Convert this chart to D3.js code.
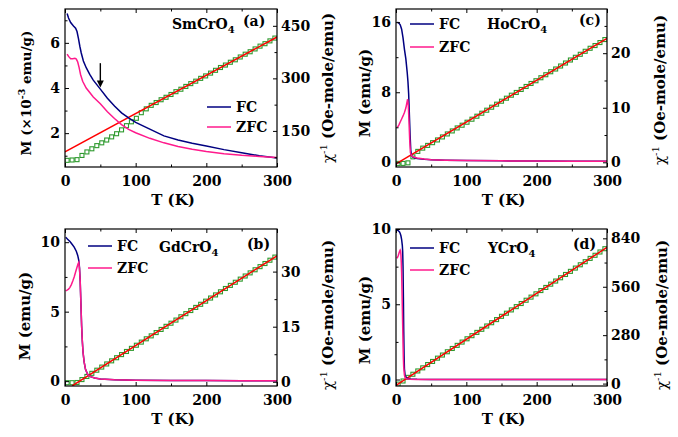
<!DOCTYPE html>
<html>
<head>
<meta charset="utf-8">
<script src="https://cdn.jsdelivr.net/npm/d3@7"></script>
<style>
body { margin: 0; background: #fff; }
svg text { font-family: "DejaVu Serif", serif; font-weight: bold; fill: #000; }
</style>
</head>
<body>
<div id="chart"></div>
<script>
// temperature grid of the 1/chi squares (shared by all panels)
const chiT = [3, 10, 17, 24, 31, 38, 45, 52, 59, 66, 73, 80, 87, 94, 101, 108, 115, 122, 129, 136, 143, 150,
    157, 164, 171, 178, 185, 192, 199, 206, 213, 220, 227, 234, 241, 248, 255, 262, 269, 276, 283, 290, 297];

// (a) SmCrO4
const smFcT = [3, 5, 8, 12, 15, 17, 19, 21, 23, 26, 30, 35, 40, 45, 50, 60, 70, 80, 90, 100, 120, 140, 160, 180, 200, 225, 250, 275, 300];
const smFcM = [7.3, 7.1, 6.9, 6.75, 6.65, 6.5, 6.2, 5.85, 5.55, 5.2, 4.9, 4.6, 4.35, 4.15, 3.95, 3.55, 3.2, 2.9, 2.68, 2.48, 2.18, 1.88, 1.7, 1.55, 1.43, 1.27, 1.13, 1.0, 0.9];
const smZfcT = [3, 5, 8, 11, 14, 16, 18, 20, 22, 25, 30, 35, 40, 50, 60, 70, 80, 90, 100, 120, 140, 160, 180, 200, 225, 250, 275, 300];
const smZfcM = [5.5, 5.4, 5.3, 5.3, 5.32, 5.28, 5.15, 4.9, 4.6, 4.3, 4.0, 3.8, 3.6, 3.3, 2.95, 2.65, 2.38, 2.17, 2.02, 1.77, 1.57, 1.41, 1.29, 1.19, 1.09, 1.02, 0.97, 0.92];
const smChi = [66, 67, 68, 80, 90, 99, 108, 116, 124, 133, 142, 153, 165, 176, 186, 202, 213, 223, 231, 239, 246, 254,
    262, 269, 277, 285, 292, 300, 307, 315, 323, 331, 338, 346, 353, 361, 369, 376, 384, 392, 399, 407, 415];
const smFitT = [0, 300];
const smFitChi = [90, 418];

// (c) HoCrO4
const hoFcT = [2, 4, 6, 8, 10, 12, 14, 16, 17, 18, 19, 20, 21, 22, 24, 27, 30, 40, 50, 70, 100, 150, 200, 250, 300];
const hoFcM = [16, 15.9, 15.7, 15.2, 14.2, 12.9, 11.8, 10.2, 9.2, 7.8, 5.5, 3.2, 1.4, 0.8, 0.6, 0.5, 0.45, 0.35, 0.3, 0.25, 0.2, 0.17, 0.15, 0.14, 0.13];
const hoZfcT = [2, 4, 6, 8, 10, 12, 14, 15.5, 16.5, 17.5, 18.5, 19.5, 20.5, 22, 25, 30, 40, 50, 70, 100, 150, 200, 250, 300];
const hoZfcM = [4.0, 4.25, 4.6, 4.95, 5.3, 5.7, 6.2, 6.8, 7.2, 6.5, 4.6, 2.5, 1.1, 0.75, 0.6, 0.5, 0.38, 0.3, 0.25, 0.2, 0.17, 0.15, 0.14, 0.13];
const hoChi = [-0.2, -0.2, -0.1, 1.0, 2.0, 2.6, 3.1, 3.6, 4.1, 4.65, 5.2, 5.75, 6.3, 6.8, 7.35, 7.9, 8.45, 9.0, 9.55, 10.1, 10.65, 11.2,
    11.75, 12.3, 12.8, 13.35, 13.9, 14.45, 14.95, 15.5, 16.05, 16.6, 17.1, 17.65, 18.2, 18.75, 19.25, 19.8, 20.35, 20.9, 21.4, 21.95, 22.5];
const hoFitT = [0, 300];
const hoFitChi = [-0.3, 22.7];

// (b) GdCrO4
const gdFcT = [1, 4, 7, 10, 13, 16, 18, 19.5, 20.5, 21.5, 22.5, 23.5, 24.5, 25.5, 27, 29, 32, 36, 42, 50, 70, 100, 150, 200, 250, 300];
const gdFcM = [10.35, 10.2, 10.05, 9.85, 9.65, 9.35, 9.05, 8.7, 8.2, 7.2, 5.6, 4.0, 2.9, 2.1, 1.4, 0.85, 0.5, 0.32, 0.22, 0.16, 0.1, 0.07, 0.05, 0.04, 0.03, 0.03];
const gdZfcT = [1, 3, 5, 7, 9, 11, 13, 15, 17, 18.5, 19.5, 20.5, 21.5, 22.5, 23.5, 24.5, 25.5, 27, 29, 32, 36, 42, 50, 70, 100, 150, 200, 250, 300];
const gdZfcM = [6.5, 6.55, 6.62, 6.75, 6.95, 7.2, 7.5, 7.85, 8.2, 8.45, 8.55, 8.1, 7.2, 5.6, 4.0, 2.9, 2.1, 1.4, 0.85, 0.5, 0.32, 0.22, 0.16, 0.1, 0.07, 0.05, 0.04, 0.03, 0.03];
const gdChi = [-0.25, -0.25, -0.2, 0.6, 1.45, 2.3, 3.15, 4.0, 4.85, 5.7, 6.55, 7.4, 8.25, 9.1, 9.95, 10.8, 11.7, 12.5, 13.4, 14.25, 15.1, 15.95,
    16.8, 17.7, 18.55, 19.4, 20.25, 21.1, 21.95, 22.8, 23.65, 24.5, 25.4, 26.25, 27.1, 27.95, 28.8, 29.65, 30.5, 31.35, 32.2, 33.1, 33.95];
const gdFitT = [10, 300];
const gdFitChi = [-1.13, 34.3];

// (d) YCrO4
const yFcT = [1, 3, 5, 6, 7, 8, 9, 9.5, 10, 10.5, 11, 11.5, 12, 13, 15, 20, 30, 50, 100, 150, 200, 250, 300];
const yFcM = [9.95, 9.9, 9.8, 9.7, 9.55, 9.3, 8.9, 8.5, 7.5, 5.5, 3.2, 1.6, 0.7, 0.25, 0.1, 0.04, 0.02, 0.01, 0, 0, 0, 0, 0];
const yZfcT = [1, 2, 3, 4, 5, 6, 6.5, 7, 7.5, 8, 8.5, 9, 9.5, 10, 10.5, 11, 12, 13, 15, 20, 30, 50, 100, 150, 200, 250, 300];
const yZfcM = [8.05, 8.1, 8.2, 8.35, 8.5, 8.6, 8.55, 8.3, 7.8, 7.1, 6.0, 4.8, 3.6, 2.4, 1.4, 0.8, 0.3, 0.12, 0.05, 0.02, 0.01, 0, 0, 0, 0, 0, 0];
const yChi = [-3, 15, 36, 54, 73, 91, 110, 128, 147, 165, 184, 203, 221, 240, 259, 277, 296, 314, 333, 352, 370, 389,
    407, 426, 445, 463, 482, 500, 519, 538, 556, 575, 593, 612, 631, 649, 668, 687, 705, 724, 742, 761, 780];
const yFitT = [0, 300];
const yFitChi = [-10, 788];

// axis ticks
const tTicks = [0, 100, 200, 300];
const tMinor = [50, 150, 250];

const FC_COLOR = "#000080";
const ZFC_COLOR = "#ff1a8c";
const FIT_COLOR = "#ff0000";
const CHI_COLOR = "#2e9a2e";

const svg = d3.select("#chart")
    .append("svg")
    .attr("width", 678)
    .attr("height", 437);

const panels = [
    {
        id: "a", x0: 65, x1: 277, y0: 9, y1: 167,
        mDomain: [0.5, 7.5], mTicks: [2, 4, 6], mMinor: [1, 3, 5, 7],
        chiDomain: [47, 498], chiTicks: [150, 300, 450], chiMinor: [75, 225, 375],
        fcT: smFcT, fcM: smFcM, zfcT: smZfcT, zfcM: smZfcM, chi: smChi, fitT: smFitT, fitChi: smFitChi,
        name: "SmCrO", tag: "(a)", nameX: 172, nameY: 29, tagX: 243, tagY: 26,
        legX: 207, legY: [107, 127], mLabel: "scaled", mLabelX: 26, mLabelY: 93, chiLabelX: 328, chiLabelY: 88,
        arrow: { t: 50, m0: 5.1, m1: 4.02 }
    },
    {
        id: "c", x0: 396, x1: 607, y0: 9, y1: 167,
        mDomain: [-0.53, 17.5], mTicks: [0, 8, 16], mMinor: [4, 12],
        chiDomain: [-0.86, 28.1], chiTicks: [0, 10, 20], chiMinor: [5, 15, 25],
        fcT: hoFcT, fcM: hoFcM, zfcT: hoZfcT, zfcM: hoZfcM, chi: hoChi, fitT: hoFitT, fitChi: hoFitChi,
        name: "HoCrO", tag: "(c)", nameX: 487, nameY: 29, tagX: 579, tagY: 25,
        legX: 410, legY: [24, 47], mLabel: "plain", mLabelX: 365, mLabelY: 93, chiLabelX: 660, chiLabelY: 90
    },
    {
        id: "b", x0: 65, x1: 277, y0: 229, y1: 386,
        mDomain: [-0.35, 10.95], mTicks: [0, 5, 10], mMinor: [2.5, 7.5],
        chiDomain: [-1.15, 41.6], chiTicks: [0, 15, 30], chiMinor: [7.5, 22.5],
        fcT: gdFcT, fcM: gdFcM, zfcT: gdZfcT, zfcM: gdZfcM, chi: gdChi, fitT: gdFitT, fitChi: gdFitChi,
        name: "GdCrO", tag: "(b)", nameX: 159, nameY: 252, tagX: 247, tagY: 249,
        legX: 88, legY: [246, 268], mLabel: "plain", mLabelX: 25, mLabelY: 316, chiLabelX: 328, chiLabelY: 315
    },
    {
        id: "d", x0: 396, x1: 607, y0: 229, y1: 386,
        mDomain: [-0.43, 10.0], mTicks: [0, 5, 10], mMinor: [2.5, 7.5],
        chiDomain: [-14, 894], chiTicks: [0, 280, 560, 840], chiMinor: [140, 420, 700],
        fcT: yFcT, fcM: yFcM, zfcT: yZfcT, zfcM: yZfcM, chi: yChi, fitT: yFitT, fitChi: yFitChi,
        name: "YCrO", tag: "(d)", nameX: 488, nameY: 253, tagX: 573, tagY: 249,
        legX: 410, legY: [248, 270], mLabel: "plain", mLabelX: 365, mLabelY: 320, chiLabelX: 662, chiLabelY: 315
    }
];

// draws one of the four M(T) / chi^-1(T) panels
function drawPanel(p) {
    const x = d3.scaleLinear().domain([0, 300]).range([p.x0, p.x1]);
    const yM = d3.scaleLinear().domain(p.mDomain).range([p.y1, p.y0]);
    const yChi = d3.scaleLinear().domain(p.chiDomain).range([p.y1, p.y0]);

    svg.append("clipPath").attr("id", `clip-${p.id}`)
        .append("rect")
        .attr("x", p.x0).attr("y", p.y0)
        .attr("width", p.x1 - p.x0).attr("height", p.y1 - p.y0);

    const g = svg.append("g").attr("clip-path", `url(#clip-${p.id})`);

    // chi^-1 squares
    g.selectAll(null)
        .data(chiT.map((t, i) => ({ t: t, v: p.chi[i] })))
        .enter()
        .append("rect")
        .attr("x", d => x(d.t) - 2)
        .attr("y", d => yChi(d.v) - 2)
        .attr("width", 4)
        .attr("height", 4)
        .attr("fill", "none")
        .attr("stroke", CHI_COLOR)
        .attr("stroke-width", 1.1);

    // Curie-Weiss fit
    const fitLine = d3.line().x(d => x(d.t)).y(d => yChi(d.v));
    g.append("path")
        .datum(p.fitT.map((t, i) => ({ t: t, v: p.fitChi[i] })))
        .attr("d", fitLine)
        .attr("fill", "none")
        .attr("stroke", FIT_COLOR)
        .attr("stroke-width", 1.5);

    const mLine = d3.line().x(d => x(d.t)).y(d => yM(d.v));
    g.append("path")
        .datum(p.fcT.map((t, i) => ({ t: t, v: p.fcM[i] })))
        .attr("d", mLine)
        .attr("fill", "none")
        .attr("stroke", FC_COLOR)
        .attr("stroke-width", 1.5);
    g.append("path")
        .datum(p.zfcT.map((t, i) => ({ t: t, v: p.zfcM[i] })))
        .attr("d", mLine)
        .attr("fill", "none")
        .attr("stroke", ZFC_COLOR)
        .attr("stroke-width", 1.5);

    // axes, ticks pointing inward
    const axes = svg.append("g").attr("class", "axes");
    const put = (axis, tx, ty) => {
        const a = axes.append("g").attr("transform", `translate(${tx},${ty})`).call(axis);
        a.select(".domain").remove();
        a.selectAll("line").attr("stroke", "#000").attr("stroke-width", 1);
        a.selectAll("text").attr("font-size", 14).attr("fill", "#000");
        return a;
    };
    const plain = d => String(d);
    put(d3.axisBottom(x).tickValues(tTicks).tickSize(-4).tickPadding(9).tickFormat(plain), 0, p.y1);
    put(d3.axisBottom(x).tickValues(tMinor).tickSize(-2.5).tickFormat(""), 0, p.y1);
    put(d3.axisTop(x).tickValues(tTicks).tickSize(-4).tickFormat(""), 0, p.y0);
    put(d3.axisTop(x).tickValues(tMinor).tickSize(-2.5).tickFormat(""), 0, p.y0);
    put(d3.axisLeft(yM).tickValues(p.mTicks).tickSize(-4).tickPadding(5).tickFormat(plain), p.x0, 0);
    put(d3.axisLeft(yM).tickValues(p.mMinor).tickSize(-2.5).tickFormat(""), p.x0, 0);
    put(d3.axisRight(yChi).tickValues(p.chiTicks).tickSize(-4).tickPadding(4).tickFormat(plain), p.x1, 0);
    put(d3.axisRight(yChi).tickValues(p.chiMinor).tickSize(-2.5).tickFormat(""), p.x1, 0);

    svg.append("rect")
        .attr("x", p.x0).attr("y", p.y0)
        .attr("width", p.x1 - p.x0).attr("height", p.y1 - p.y0)
        .attr("fill", "none")
        .attr("stroke", "#000")
        .attr("stroke-width", 1.2);

    // x-axis title
    svg.append("text")
        .attr("x", (p.x0 + p.x1) / 2 + 2)
        .attr("y", p.y1 + 38)
        .attr("text-anchor", "middle")
        .attr("font-size", 15)
        .text("T (K)");

    // left title
    const ml = svg.append("text")
        .attr("transform", `translate(${p.mLabelX},${p.mLabelY}) rotate(-90)`)
        .attr("text-anchor", "middle")
        .attr("dy", "0.35em")
        .attr("font-size", p.mLabel === "scaled" ? 13.5 : 15);
    if (p.mLabel === "scaled") {
        ml.append("tspan").text("M (×10");
        ml.append("tspan").attr("dy", -6).attr("font-size", 9.5).text("-3");
        ml.append("tspan").attr("dy", 6).text(" emu/g)");
    } else {
        ml.text("M (emu/g)");
    }

    // right title
    const cl = svg.append("text")
        .attr("transform", `translate(${p.chiLabelX},${p.chiLabelY}) rotate(-90)`)
        .attr("text-anchor", "middle")
        .attr("dy", "0.35em")
        .attr("font-size", 15);
    cl.append("tspan").attr("font-weight", "normal").text("χ");
    cl.append("tspan").attr("dy", -6).attr("font-size", 10).attr("font-weight", "normal").text("-1");
    cl.append("tspan").attr("dy", 6).text(" (Oe-mole/emu)");

    // compound name with subscript
    const nm = svg.append("text").attr("x", p.nameX).attr("y", p.nameY).attr("font-size", 14);
    nm.append("tspan").text(p.name);
    nm.append("tspan").attr("dy", 4).attr("font-size", 10).text("4");

    svg.append("text").attr("x", p.tagX).attr("y", p.tagY).attr("font-size", 14).text(p.tag);

    // legend
    [["FC", FC_COLOR], ["ZFC", ZFC_COLOR]].forEach(([label, color], i) => {
        svg.append("line")
            .attr("x1", p.legX).attr("x2", p.legX + 24)
            .attr("y1", p.legY[i]).attr("y2", p.legY[i])
            .attr("stroke", color)
            .attr("stroke-width", 1.5);
        svg.append("text")
            .attr("x", p.legX + 29)
            .attr("y", p.legY[i])
            .attr("dy", "0.36em")
            .attr("font-size", 14)
            .text(label);
    });

    // arrow marking the anomaly
    if (p.arrow) {
        const ax = x(p.arrow.t);
        const ya = yM(p.arrow.m0), yb = yM(p.arrow.m1);
        svg.append("line")
            .attr("x1", ax).attr("x2", ax)
            .attr("y1", ya).attr("y2", yb - 5)
            .attr("stroke", "#000").attr("stroke-width", 1.4);
        svg.append("path")
            .attr("d", `M${ax - 3.5},${yb - 7} L${ax + 3.5},${yb - 7} L${ax},${yb} Z`)
            .attr("fill", "#000");
    }
}

panels.forEach(drawPanel);
</script>
</body>
</html>
